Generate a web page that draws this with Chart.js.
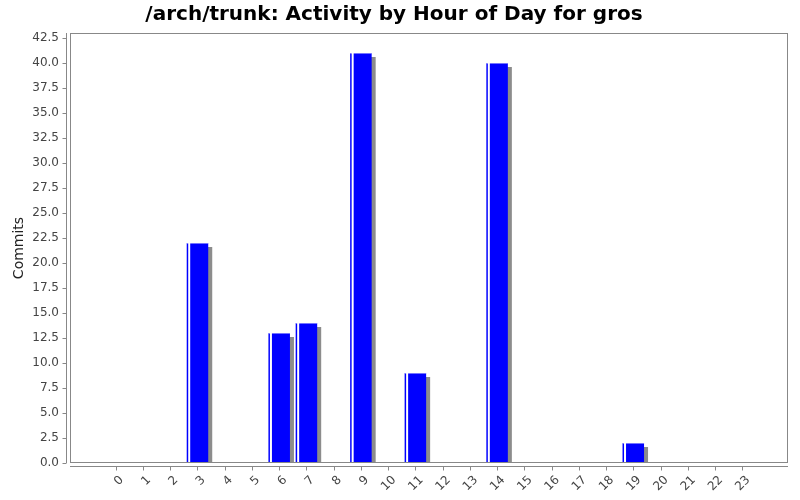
<!DOCTYPE html>
<html>
<head>
<meta charset="utf-8">
<script src="https://cdn.jsdelivr.net/npm/chart.js@4.4.0/dist/chart.umd.min.js"></script>
<style>
  html, body { margin: 0; padding: 0; background: #fff; }
  #wrap { width: 800px; height: 500px; }
</style>
</head>
<body>
<div id="wrap"><canvas id="c" width="800" height="500"></canvas></div>
<script>
const titleText = "/arch/trunk: Activity by Hour of Day for gros";
const yAxisTitle = "Commits";
const hours = [0,1,2,3,4,5,6,7,8,9,10,11,12,13,14,15,16,17,18,19,20,21,22,23];
const hourLabels = ["0","1","2","3","4","5","6","7","8","9","10","11","12","13","14","15","16","17","18","19","20","21","22","23"];
const commits = [0,0,0,22,0,0,13,14,0,41,0,9,0,0,40,0,0,0,0,2,0,0,0,0];
const yTicks = [0,2.5,5,7.5,10,12.5,15,17.5,20,22.5,25,27.5,30,32.5,35,37.5,40,42.5];

const AXIS = '#888888';

const jfreePlugin = {
  id: 'jfree',
  beforeDatasetsDraw(chart) {
    const ctx = chart.ctx, a = chart.chartArea;
    const meta = chart.getDatasetMeta(0);
    ctx.save();
    ctx.beginPath();
    ctx.rect(a.left, a.top, a.right - a.left, a.bottom - a.top);
    ctx.clip();
    ctx.fillStyle = '#8c8c8c';
    meta.data.forEach(el => {
      const p = el.getProps(['x','y','base','width'], true);
      const h = p.base - p.y;
      if (h <= 0) return;
      ctx.fillRect(p.x - p.width / 2 + 4, p.y + 4, p.width, h);
    });
    ctx.restore();
  },
  afterDatasetsDraw(chart) {
    const ctx = chart.ctx;
    const meta = chart.getDatasetMeta(0);
    ctx.save();
    meta.data.forEach(el => {
      const p = el.getProps(['x','y','base','width'], true);
      const h = p.base - p.y;
      if (h <= 0) return;
      const left = p.x - p.width / 2;
      ctx.fillStyle = '#ffffff';
      ctx.fillRect(left + 1.5, p.y, 2, h);
      ctx.fillStyle = 'rgba(255,255,255,0.45)';
      ctx.fillRect(left, p.y, p.width, 1);
    });
    ctx.restore();
  },
  afterDraw(chart) {
    const ctx = chart.ctx, a = chart.chartArea;
    const xs = chart.scales.x, ys = chart.scales.y;
    ctx.save();
    ctx.strokeStyle = AXIS;
    ctx.lineWidth = 1;
    ctx.strokeRect(Math.round(a.left) + 0.5, Math.round(a.top) + 0.5,
                   Math.round(a.right - a.left) - 1, Math.round(a.bottom - a.top) - 1);
    const yx = Math.round(a.left) - 4 + 0.5;
    ctx.beginPath();
    ctx.moveTo(yx, a.top);
    ctx.lineTo(yx, a.bottom);
    ys.ticks.forEach(t => {
      const py = Math.round(ys.getPixelForValue(t.value)) + 0.5;
      ctx.moveTo(yx - 4, py);
      ctx.lineTo(yx, py);
    });
    ctx.stroke();
    const xy = Math.round(a.bottom) + 3 + 0.5;
    ctx.beginPath();
    ctx.moveTo(a.left, xy);
    ctx.lineTo(a.right, xy);
    xs.ticks.forEach(t => {
      const px = Math.round(xs.getPixelForValue(t.value)) + 0.5;
      ctx.moveTo(px, xy);
      ctx.lineTo(px, xy + 4);
    });
    ctx.stroke();
    ctx.restore();
  }
};

new Chart(document.getElementById('c'), {
  type: 'bar',
  data: {
    datasets: [{
      data: hours.map((h, i) => ({ x: h, y: commits[i] })),
      backgroundColor: '#0000ff',
      borderWidth: 0,
      barPercentage: 1.0,
      categoryPercentage: 0.79
    }]
  },
  options: {
    responsive: false,
    animation: false,
    devicePixelRatio: 1,
    layout: { padding: { left: 0, right: 12, top: 0, bottom: 0 } },
    plugins: {
      legend: { display: false },
      tooltip: { enabled: false },
      title: {
        display: true,
        text: titleText,
        color: '#000000',
        font: { family: 'DejaVu Sans', size: 20, weight: 'bold' },
        padding: { top: 3, bottom: 6 }
      }
    },
    scales: {
      x: {
        type: 'linear',
        offset: false,
        min: -1.68,
        max: 24.68,
        grid: { display: false, drawTicks: false, offset: false },
        border: { display: false },
        afterBuildTicks(scale) { scale.ticks = hours.map(v => ({ value: v })); },
        afterFit(scale) { scale.height = 37; },
        ticks: {
          autoSkip: false,
          maxRotation: 45,
          minRotation: 45,
          padding: 10,
          labelOffset: 6,
          color: '#444444',
          font: { family: 'DejaVu Sans', size: 12 },
          callback: (v) => hourLabels[hours.indexOf(v)] ?? ''
        }
      },
      y: {
        min: 0,
        max: 43,
        grid: { display: false, drawTicks: false },
        border: { display: false },
        afterBuildTicks(scale) { scale.ticks = yTicks.map(v => ({ value: v })); },
        afterFit(scale) { scale.width = 70; },
        title: {
          display: true,
          text: yAxisTitle,
          color: '#222222',
          font: { family: 'DejaVu Sans', size: 14 },
          padding: { top: 11, bottom: 0 }
        },
        ticks: {
          padding: 11,
          color: '#444444',
          font: { family: 'DejaVu Sans', size: 12 },
          callback: (v) => Number(v).toFixed(1)
        }
      }
    }
  },
  plugins: [jfreePlugin]
});
</script>
</body>
</html>
